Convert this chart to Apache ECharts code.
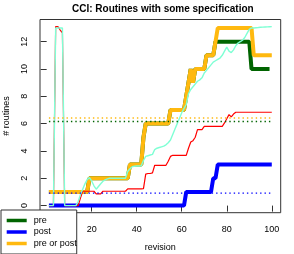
<!DOCTYPE html>
<html>
<head>
<meta charset="utf-8">
<script src="https://cdn.jsdelivr.net/npm/echarts@6/dist/echarts.min.js"></script>
<style>html,body{margin:0;padding:0;background:#fff}#c{width:294px;height:254px}</style>
</head>
<body>
<div id="c"></div>
<script>
// values per revision (revision = index + 1)
const pre = [1,1,1,1,1,1,1,1,1,1,1,1,1,1,1,1,1,1,
  2,2,2,2,2,2,2,2,2,2,2,2,2,2,2,2,2,2,
  3,3,3,3,3,3,5,6,6,6,6,6,6,6,6,6,6,6,
  7,7,7,7,7,7,7,8,9,10,9,10,10,10,10,10,
  11,11,11,11,12,12,12,12,12,12,12,12,12,12,12,12,12,12,12,12,
  10,10,10,10,10,10,10,10,10];
const post = [0,0,0,0,0,0,0,0,0,0,0,0,0,0,0,0,0,0,0,0,
  0,0,0,0,0,0,0,0,0,0,0,0,0,0,0,0,0,0,0,0,
  0,0,0,0,0,0,0,0,0,0,0,0,0,0,0,0,0,0,0,0,0,
  1,1,1,1,1,1,1,1,1,1,1,1,2,2,
  3,3,3,3,3,3,3,3,3,3,3,3,3,3,3,3,3,3,3,3,3,3,3,3,3];
const preOrPost = [1,1,1,1,1,1,1,1,1,1,1,1,1,1,1,1,1,1,
  2,2,2,2,2,2,2,2,2,2,2,2,2,2,2,2,2,2,
  3,3,3,3,3,3,5,6,6,6,6,6,6,6,6,6,6,6,
  7,7,7,7,7,7,7,8,9,10,9,10,10,10,10,10,
  11,11,11,11,12,13,13,13,13,13,13,13,13,13,13,13,13,13,13,13,13,
  11,11,11,11,11,11,11,11,11];
const redLine = [0,0,0,13.1,13.1,12.85,12.65,0,0,0,0,0,0,0,0.55,1.05,1.05,1.05,1.05,1.05,
  1.05,0.86,0.86,0.86,1.05,1.05,1.05,1.05,1.05,1.05,1.05,1.05,1.05,1.05,1.05,1.22,1.22,1.22,1.22,1.22,
  1.22,1.22,1.24,2.3,2.35,2.35,2.4,2.95,2.95,2.95,2.95,2.95,2.95,3.25,3.6,3.68,3.68,3.68,3.68,3.68,
  3.68,3.68,4.2,4.65,4.75,5.0,5.56,5.56,5.56,5.8,5.8,5.8,5.8,5.8,5.8,5.8,5.8,5.8,6.05,6.35,
  6.66,6.49,6.7,6.83,6.83,6.83,6.83,6.83,6.83,6.83,6.83,6.83,6.83,6.83,6.83,6.83,6.83,6.83,6.83,6.83];
const aquaLine = [0,0,0,13,13,13,13,0,0,0,0,0,0,0.3,0.8,1.2,1.6,1.9,2.05,1.8,
  1.45,1.2,1.4,1.6,1.78,1.88,1.95,2.0,2.0,2.0,2.0,2.0,2.0,2.0,2.0,2.5,2.7,2.85,2.88,2.9,
  2.9,2.92,3.3,3.6,3.65,3.7,3.75,4.1,4.2,4.25,4.3,4.35,4.45,4.6,4.8,5.2,5.6,6.0,6.4,6.8,
  7.1,7.4,8.2,8.5,8.7,8.9,9.1,9.2,9.35,9.7,9.9,10.1,10.3,10.5,10.6,10.7,10.8,11.0,11.3,11.6,
  11.3,11.2,11.4,11.7,11.9,12.0,12.1,12.3,12.6,12.9,13.0,13.0,13.02,13.03,13.05,13.06,13.07,13.08,13.09,13.1];
const meanPre = 6.16, meanPost = 0.91, meanPreOrPost = 6.41;
const xTicks = [20,40,60,80,100];
const yTicks = [0,2,4,6,8,10,12];

const FONT = 'Liberation Sans';
const pts = arr => arr.map((v, i) => [i + 1, v]);
const flat = v => [[1, v], [100, v]];

const chart = echarts.init(document.getElementById('c'), null, {renderer: 'canvas'});
chart.setOption({
  animation: false,
  title: {
    text: 'CCI: Routines with some specification',
    left: 72, top: 4, padding: 0,
    textStyle: {fontSize: 10, fontWeight: 'bold', color: '#000', fontFamily: FONT}
  },
  grid: {left: 40, right: 13.3, top: 19.5, bottom: 41.3, containLabel: false, outerBoundsMode: 'none',
    show: true, borderColor: '#333', borderWidth: 1, backgroundColor: 'transparent'},
  legend: {
    data: ['pre', 'post', 'pre or post'], orient: 'vertical', left: 1, top: 210,
    icon: 'rect', itemWidth: 20, itemHeight: 3.5, itemGap: 0.5,
    padding: [5, 0, 5, 5.7], borderColor: '#333', borderWidth: 1, borderRadius: 0,
    backgroundColor: '#fff', selectedMode: false,
    textStyle: {fontSize: 9, lineHeight: 11, color: '#000', fontFamily: FONT, padding: [0, 0, 0, 2]}
  },
  xAxis: {
    type: 'value', min: -2.96, max: 103.96,
    axisLine: {show: false}, splitLine: {show: false},
    axisTick: {show: true, length: 6, lineStyle: {color: '#333'}, customValues: xTicks},
    axisLabel: {customValues: xTicks, fontSize: 9, color: '#000', margin: 12, fontFamily: FONT},
    name: 'revision', nameLocation: 'middle', nameGap: 30.5,
    nameTextStyle: {fontSize: 9, color: '#000', fontFamily: FONT}
  },
  yAxis: {
    type: 'value', min: -0.52, max: 13.62,
    axisLine: {show: false}, splitLine: {show: false},
    axisTick: {show: true, length: 6, lineStyle: {color: '#333'}, customValues: yTicks},
    axisLabel: {customValues: yTicks, fontSize: 9, color: '#000', margin: 11, rotate: 90, fontFamily: FONT},
    name: '# routines', nameLocation: 'middle', nameGap: 29, nameRotate: 90,
    nameTextStyle: {fontSize: 9, color: '#000', fontFamily: FONT}
  },
  series: [
    {name: 'pre', type: 'line', data: pts(pre), showSymbol: false, color: '#006400', lineStyle: {width: 4, color: '#006400'}, z: 2},
    {name: 'post', type: 'line', data: pts(post), showSymbol: false, color: '#0000ff', lineStyle: {width: 4, color: '#0000ff'}, z: 2},
    {name: 'pre or post', type: 'line', data: pts(preOrPost), showSymbol: false, color: '#ffb90f', lineStyle: {width: 4, color: '#ffb90f'}, z: 2},
    {name: 'r', type: 'line', data: pts(redLine), showSymbol: false, lineStyle: {width: 1.2, color: '#ff0000'}, z: 3},
    {name: 'a', type: 'line', data: pts(aquaLine), showSymbol: false, lineStyle: {width: 1.4, color: '#7fffd4'}, z: 3},
    {name: 'mpre', type: 'line', data: flat(meanPre), showSymbol: false, lineStyle: {width: 1.4, color: '#006400', type: [1.4, 3]}, z: 3},
    {name: 'mpost', type: 'line', data: flat(meanPost), showSymbol: false, lineStyle: {width: 1.4, color: '#0000ff', type: [1.4, 3]}, z: 3},
    {name: 'mpp', type: 'line', data: flat(meanPreOrPost), showSymbol: false, lineStyle: {width: 1.4, color: '#ffb90f', type: [1.4, 3]}, z: 3}
  ]
});
</script>
</body>
</html>
